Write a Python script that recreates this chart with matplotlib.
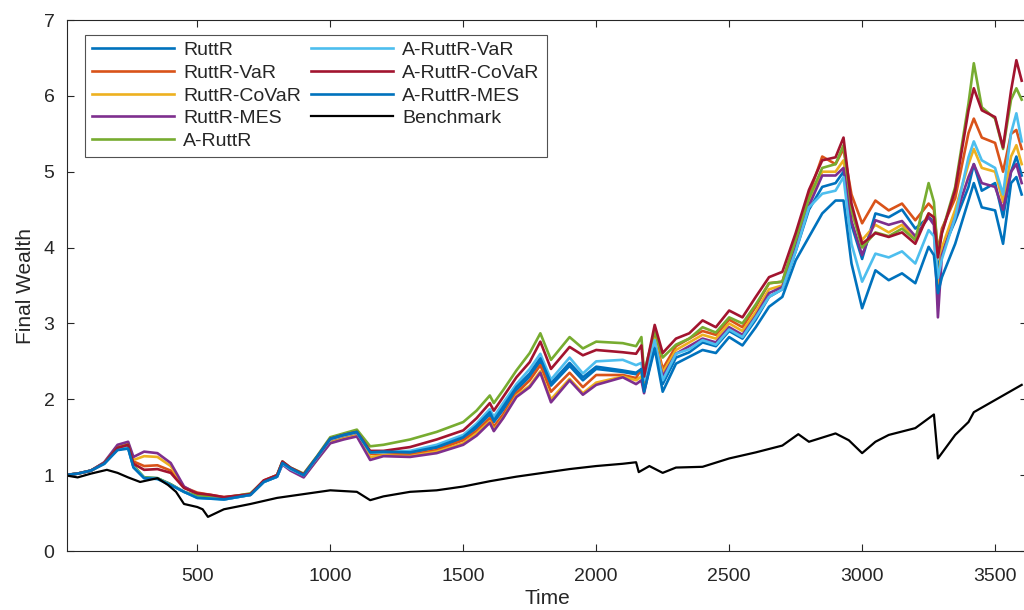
import matplotlib
matplotlib.use("Agg")
import matplotlib.pyplot as plt

plt.rcParams['font.family'] = ['Liberation Sans', 'DejaVu Sans']

t = [0, 50, 100, 150, 200, 240, 260, 300, 350, 400, 450, 500, 550, 600,
     700, 750, 800, 820, 850, 900, 950, 1000, 1050, 1100, 1150, 1200, 1300, 1400,
     1500, 1550, 1600, 1615, 1650, 1700, 1750, 1790, 1830, 1900, 1950, 2000, 2100,
     2150, 2170, 2180, 2220, 2250, 2300, 2350, 2400, 2450, 2500, 2550, 2600, 2650,
     2700, 2750, 2800, 2850, 2900, 2930, 2960, 3000, 3050, 3100, 3150, 3200, 3250,
     3270, 3285, 3300, 3350, 3400, 3420, 3450, 3500, 3530, 3560, 3580, 3600]

ruttr = [1.00, 1.02, 1.06, 1.15, 1.34, 1.36, 1.11, 0.97, 0.96, 0.88, 0.78, 0.71, 0.70, 0.68,
         0.74, 0.91, 0.98, 1.16, 1.08, 1.00, 1.23, 1.47, 1.52, 1.56, 1.29, 1.30, 1.30, 1.36,
         1.48, 1.62, 1.80, 1.70, 1.86, 2.12, 2.30, 2.50, 2.18, 2.44, 2.25, 2.40, 2.36,
         2.33, 2.38, 2.12, 2.72, 2.20, 2.55, 2.62, 2.75, 2.70, 2.90, 2.80, 3.05, 3.35,
         3.45, 3.95, 4.50, 4.80, 4.85, 5.00, 4.30, 3.85, 4.45, 4.40, 4.50, 4.25, 4.40,
         4.35, 3.70, 3.95, 4.35, 4.80, 5.10, 4.75, 4.85, 4.40, 5.00, 5.20, 4.95]
ruttr_var = [1.00, 1.02, 1.06, 1.16, 1.37, 1.40, 1.18, 1.12, 1.13, 1.06, 0.84, 0.77, 0.74, 0.71,
             0.75, 0.93, 1.00, 1.17, 1.09, 1.00, 1.22, 1.45, 1.50, 1.54, 1.28, 1.28, 1.27, 1.33,
             1.46, 1.58, 1.75, 1.64, 1.80, 2.08, 2.25, 2.45, 2.10, 2.35, 2.16, 2.32, 2.32,
             2.28, 2.40, 2.20, 2.85, 2.40, 2.70, 2.80, 2.90, 2.85, 3.05, 2.95, 3.22, 3.53,
             3.55, 4.10, 4.70, 5.20, 5.10, 5.30, 4.70, 4.32, 4.62, 4.49, 4.58, 4.36, 4.58,
             4.50, 3.95, 4.25, 4.65, 5.51, 5.70, 5.45, 5.38, 5.00, 5.50, 5.55, 5.30]
ruttr_covar = [1.00, 1.02, 1.06, 1.16, 1.38, 1.42, 1.20, 1.25, 1.24, 1.12, 0.84, 0.75, 0.73, 0.70,
               0.74, 0.92, 0.99, 1.15, 1.07, 0.98, 1.20, 1.43, 1.48, 1.52, 1.24, 1.26, 1.25, 1.31,
               1.42, 1.55, 1.71, 1.60, 1.76, 2.05, 2.18, 2.37, 2.00, 2.27, 2.08, 2.22, 2.30,
               2.25, 2.30, 2.12, 2.80, 2.35, 2.65, 2.75, 2.85, 2.80, 3.00, 2.90, 3.15, 3.45,
               3.50, 4.05, 4.60, 5.00, 5.00, 5.15, 4.45, 4.10, 4.30, 4.20, 4.30, 4.10, 4.45,
               4.40, 3.50, 4.00, 4.50, 5.10, 5.30, 5.05, 5.00, 4.60, 5.20, 5.35, 5.10]
ruttr_mes = [1.00, 1.02, 1.06, 1.17, 1.40, 1.44, 1.24, 1.31, 1.29, 1.16, 0.85, 0.75, 0.73, 0.70,
             0.74, 0.92, 0.98, 1.14, 1.06, 0.97, 1.20, 1.42, 1.47, 1.51, 1.20, 1.25, 1.24, 1.29,
             1.40, 1.52, 1.69, 1.58, 1.75, 2.03, 2.16, 2.35, 1.96, 2.25, 2.06, 2.19, 2.29,
             2.20, 2.25, 2.08, 2.75, 2.30, 2.60, 2.70, 2.80, 2.75, 2.95, 2.85, 3.10, 3.40,
             3.48, 4.00, 4.55, 4.95, 4.95, 5.05, 4.35, 3.90, 4.36, 4.30, 4.35, 4.15, 4.40,
             4.30, 3.08, 3.90, 4.40, 4.93, 5.10, 4.85, 4.80, 4.50, 5.00, 5.10, 4.85]
a_ruttr = [1.00, 1.02, 1.06, 1.16, 1.36, 1.40, 1.13, 0.97, 0.96, 0.88, 0.78, 0.73, 0.72, 0.70,
           0.76, 0.92, 1.00, 1.18, 1.10, 1.02, 1.25, 1.50, 1.55, 1.60, 1.38, 1.40, 1.47, 1.57,
           1.70, 1.85, 2.05, 1.95, 2.12, 2.38, 2.61, 2.87, 2.52, 2.82, 2.67, 2.76, 2.74,
           2.70, 2.82, 2.35, 2.90, 2.55, 2.72, 2.80, 2.95, 2.88, 3.08, 3.00, 3.25, 3.53,
           3.55, 4.10, 4.65, 5.05, 5.10, 5.35, 4.50, 4.00, 4.20, 4.15, 4.25, 4.10, 4.85,
           4.60, 3.90, 4.20, 4.80, 5.90, 6.43, 5.85, 5.70, 5.30, 5.95, 6.10, 5.95]
a_ruttr_var = [1.00, 1.02, 1.06, 1.15, 1.34, 1.36, 1.11, 0.96, 0.95, 0.87, 0.78, 0.70, 0.69, 0.68,
               0.74, 0.91, 0.98, 1.15, 1.08, 1.00, 1.23, 1.47, 1.52, 1.56, 1.30, 1.30, 1.32, 1.40,
               1.53, 1.68, 1.87, 1.77, 1.95, 2.20, 2.40, 2.60, 2.26, 2.55, 2.34, 2.50, 2.52,
               2.45, 2.48, 2.25, 2.78, 2.25, 2.60, 2.66, 2.78, 2.72, 2.92, 2.82, 3.08, 3.35,
               3.45, 3.95, 4.53, 4.71, 4.75, 4.93, 4.05, 3.55, 3.92, 3.87, 3.95, 3.79, 4.23,
               4.15, 3.60, 3.85, 4.40, 5.19, 5.40, 5.15, 5.05, 4.70, 5.51, 5.77, 5.40]
a_ruttr_covar = [1.00, 1.02, 1.06, 1.16, 1.36, 1.40, 1.15, 1.07, 1.08, 1.03, 0.83, 0.76, 0.74, 0.71,
                 0.75, 0.93, 1.00, 1.18, 1.10, 1.01, 1.24, 1.48, 1.53, 1.57, 1.32, 1.32, 1.37, 1.47,
                 1.59, 1.75, 1.95, 1.85, 2.03, 2.29, 2.49, 2.76, 2.40, 2.69, 2.58, 2.65, 2.62,
                 2.60, 2.71, 2.30, 2.98, 2.61, 2.80, 2.87, 3.04, 2.95, 3.17, 3.08, 3.35, 3.61,
                 3.68, 4.19, 4.76, 5.15, 5.19, 5.45, 4.58, 4.05, 4.19, 4.14, 4.20, 4.05, 4.45,
                 4.40, 3.87, 4.19, 4.76, 5.81, 6.10, 5.81, 5.72, 5.32, 6.07, 6.47, 6.20]
a_ruttr_mes = [1.00, 1.02, 1.06, 1.15, 1.33, 1.35, 1.10, 0.96, 0.95, 0.87, 0.78, 0.70, 0.69, 0.68,
               0.74, 0.91, 0.98, 1.16, 1.09, 1.00, 1.24, 1.48, 1.53, 1.57, 1.30, 1.31, 1.30, 1.37,
               1.50, 1.65, 1.83, 1.72, 1.90, 2.16, 2.34, 2.54, 2.21, 2.48, 2.29, 2.43, 2.38,
               2.35, 2.40, 2.10, 2.67, 2.10, 2.47, 2.56, 2.65, 2.61, 2.82, 2.71, 2.95, 3.22,
               3.35, 3.83, 4.14, 4.45, 4.62, 4.62, 3.79, 3.20, 3.70, 3.57, 3.66, 3.53, 4.01,
               3.90, 3.40, 3.61, 4.05, 4.62, 4.85, 4.53, 4.49, 4.05, 4.85, 4.93, 4.70]

# benchmark read on its own time points
t_bench = [0, 50, 100, 160, 200, 240, 285, 350, 390, 420, 450, 500, 520, 540, 600,
           700, 800, 900, 1000, 1100, 1150, 1200, 1300, 1400, 1500, 1600, 1700, 1800,
           1900, 2000, 2100, 2150, 2160, 2200, 2250, 2300, 2400, 2500, 2600, 2700, 2760,
           2800, 2900, 2950, 3000, 3050, 3100, 3200, 3270, 3285, 3350, 3400, 3420, 3500, 3600]
benchmark = [1.00, 0.97, 1.02, 1.07, 1.03, 0.97, 0.91, 0.96, 0.87, 0.78, 0.62, 0.58, 0.55, 0.45, 0.55,
             0.62, 0.70, 0.75, 0.80, 0.78, 0.67, 0.72, 0.78, 0.80, 0.85, 0.92, 0.98, 1.03,
             1.08, 1.12, 1.15, 1.17, 1.04, 1.12, 1.03, 1.10, 1.11, 1.22, 1.30, 1.39, 1.54,
             1.44, 1.55, 1.46, 1.29, 1.44, 1.53, 1.62, 1.80, 1.22, 1.53, 1.70, 1.83, 1.99, 2.19]

names = ['RuttR', 'RuttR-VaR', 'RuttR-CoVaR', 'RuttR-MES', 'A-RuttR',
         'A-RuttR-VaR', 'A-RuttR-CoVaR', 'A-RuttR-MES']
series = [ruttr, ruttr_var, ruttr_covar, ruttr_mes, a_ruttr,
          a_ruttr_var, a_ruttr_covar, a_ruttr_mes]
colors = ['#0072BD', '#D95319', '#EDB120', '#7E2F8E', '#77AC30',
          '#4DBEEE', '#A2142F', '#0072BD']

fig = plt.figure(figsize=(10.24, 6.10), dpi=100)
ax = fig.add_axes([67 / 1024, 59 / 610, 960 / 1024, 531 / 610])

for name, vals, c in zip(names, series, colors):
    ax.plot(t, vals, color=c, lw=1.9, label=name)
ax.plot(t_bench, benchmark, color='black', lw=1.6, label='Benchmark')

ax.set_xlim(10, 3620)
ax.set_ylim(0, 7)
ax.set_xticks([500, 1000, 1500, 2000, 2500, 3000, 3500])
ax.set_yticks(range(0, 8))
ax.tick_params(direction='in', top=True, right=True, labelsize=14,
               colors='0.15', length=5, width=0.8)
ax.tick_params(axis='x', pad=12)
ax.tick_params(axis='y', pad=9)
for s in ax.spines.values():
    s.set_color('0.15')
    s.set_linewidth(0.8)

ax.set_xlabel('Time', fontsize=15, color='0.15', labelpad=3)
ax.set_ylabel('Final Wealth', fontsize=15, color='0.15', labelpad=6)

leg = ax.legend(loc='upper left', bbox_to_anchor=(0.019, 0.972), borderaxespad=0,
                ncol=2, fontsize=14, frameon=True, fancybox=False,
                handlelength=4.2, labelspacing=0.26, columnspacing=0.5,
                handletextpad=0.5, borderpad=0.35)
leg.get_frame().set_edgecolor('0.15')
leg.get_frame().set_linewidth(0.8)
for txt in leg.get_texts():
    txt.set_color('0.15')

fig.savefig('out.png', dpi=100)
